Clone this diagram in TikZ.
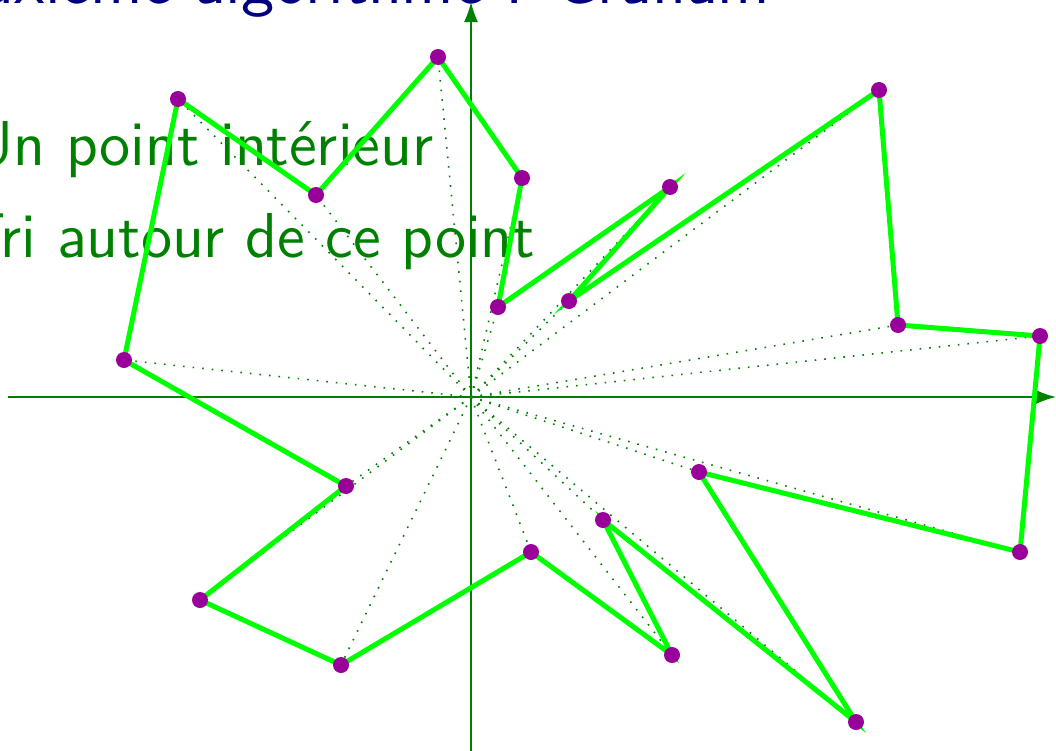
\documentclass[tikz,border=0pt]{standalone}
\usetikzlibrary{arrows.meta}
\definecolor{titleblue}{RGB}{0,0,128}
\definecolor{dkgreen}{RGB}{0,128,0}
\definecolor{ptpurple}{RGB}{153,0,153}
\definecolor{polygreen}{RGB}{0,255,0}
\begin{document}
\begin{tikzpicture}[x=0.25pt,y=-0.25pt,
  ptdot/.style={circle,fill=ptpurple,inner sep=0pt,minimum size=4pt},
  ray/.style={dkgreen,dotted,line width=0.4pt},
  poly/.style={polygreen,line width=1.25pt,line join=miter},
  axis/.style={dkgreen,line width=0.4pt,-{Latex[length=5pt,width=3.5pt]}},
  txt/.style={text=dkgreen,font=\sffamily\fontsize{15}{18}\selectfont,inner sep=0pt}]
\useasboundingbox (0,0) rectangle (1056,750);
\clip (0,0) rectangle (1056,750);
% title and text
\node[anchor=base east,inner sep=0pt,text=titleblue,font=\sffamily\fontsize{15}{18}\selectfont] (title) at (771,4) {\scalebox{1.128}{Deuxième algorithme : Graham}};
\node[txt,anchor=base east] (l1) at (434,165) {\scalebox{1.057}{Un point intérieur}};
\node[txt,anchor=base east] (l2) at (536,257) {\scalebox{1.057}{Tri autour de ce point}};
% axes
\coordinate (O) at (471,397);
\coordinate (xs) at (8,397);
\coordinate (xe) at (1056,397);
\coordinate (ys) at (471,752);
\coordinate (ye) at (471,2);
\draw[axis] (xs) -- (xe);
\draw[axis] (ys) -- (ye);
% point positions
\coordinate (c1) at (178,99);
\coordinate (c2) at (316,195);
\coordinate (c3) at (438,57);
\coordinate (c4) at (522,178);
\coordinate (c5) at (498,307);
\coordinate (c6) at (670,187);
\coordinate (c7) at (569,301);
\coordinate (c8) at (879,90);
\coordinate (c9) at (898,325);
\coordinate (c10) at (1040,336);
\coordinate (c11) at (1020,552);
\coordinate (c12) at (699,472);
\coordinate (c13) at (856,722);
\coordinate (c14) at (603,520);
\coordinate (c15) at (672,655);
\coordinate (c16) at (531,552);
\coordinate (c17) at (341,665);
\coordinate (c18) at (200,600);
\coordinate (c19) at (346,486);
\coordinate (c20) at (124,360);
% rays
\foreach \i in {1,...,20} \draw[ray] (O) -- (c\i);
% polygon
\draw[poly] (c1) -- (c2) -- (c3) -- (c4) -- (c5) -- (c6) -- (c7) -- (c8) -- (c9) -- (c10)
  -- (c11) -- (c12) -- (c13) -- (c14) -- (c15) -- (c16) -- (c17) -- (c18) -- (c19) -- (c20) -- cycle;
% points
\foreach \i in {1,...,20} \node[ptdot] (p\i) at (c\i) {};
\end{tikzpicture}
\end{document}
